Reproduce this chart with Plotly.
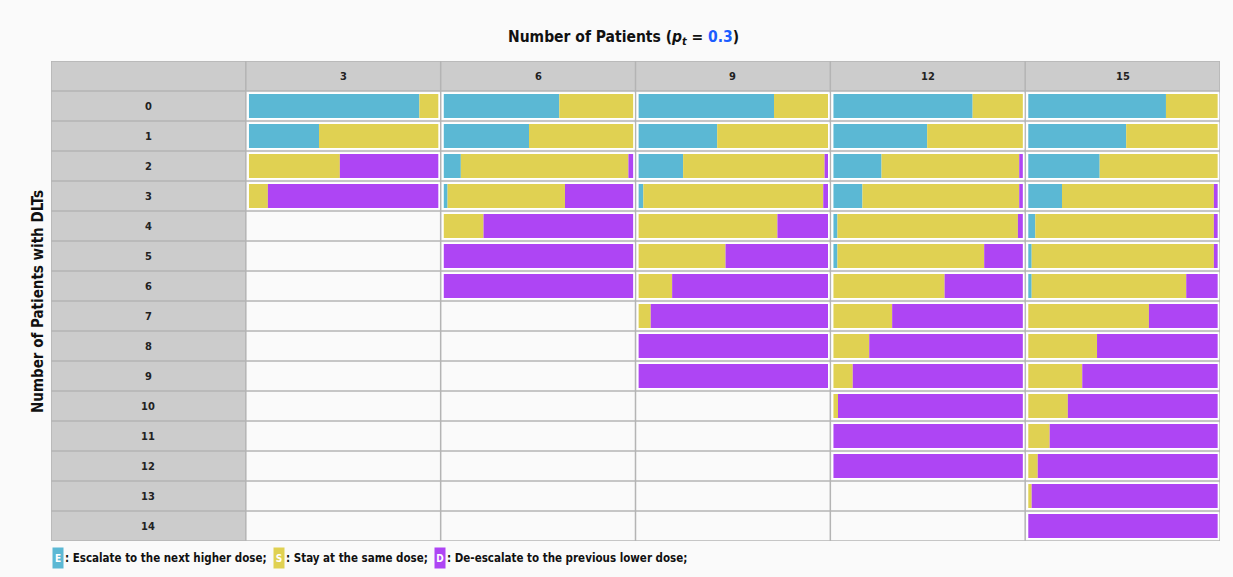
import plotly.graph_objects as go

patients = [3, 6, 9, 12, 15]
dlt_labels = [str(i) for i in range(15)]

prob_E = [
    [0.90, 0.37, 0.0, 0.0],
    [0.61, 0.45, 0.09, 0.02, 0.0, 0.0, 0.0],
    [0.715, 0.415, 0.235, 0.025, 0.0, 0.0, 0.0, 0.0, 0.0, 0.0],
    [0.735, 0.495, 0.254, 0.153, 0.021, 0.021, 0.0, 0.0, 0.0, 0.0, 0.0, 0.0, 0.0],
    [0.727, 0.517, 0.377, 0.178, 0.037, 0.018, 0.018, 0.0, 0.0, 0.0, 0.0, 0.0, 0.0, 0.0, 0.0],
]
prob_S = [
    [0.10, 0.63, 0.48, 0.10],
    [0.39, 0.55, 0.885, 0.62, 0.21, 0.0, 0.0],
    [0.285, 0.585, 0.747, 0.95, 0.733, 0.459, 0.177, 0.064, 0.0, 0.0],
    [0.265, 0.505, 0.727, 0.828, 0.953, 0.775, 0.587, 0.31, 0.189, 0.102, 0.024, 0.0, 0.0],
    [0.273, 0.483, 0.623, 0.802, 0.943, 0.962, 0.816, 0.637, 0.363, 0.285, 0.209, 0.113, 0.05, 0.018, 0.0],
]
prob_D = [
    [0.0, 0.0, 0.52, 0.90],
    [0.0, 0.0, 0.025, 0.36, 0.79, 1.0, 1.0],
    [0.0, 0.0, 0.018, 0.025, 0.267, 0.541, 0.823, 0.936, 1.0, 1.0],
    [0.0, 0.0, 0.019, 0.019, 0.026, 0.204, 0.413, 0.69, 0.811, 0.898, 0.976, 1.0, 1.0],
    [0.0, 0.0, 0.0, 0.02, 0.02, 0.02, 0.166, 0.363, 0.637, 0.715, 0.791, 0.887, 0.95, 0.982, 1.0],
]

COL_E = "#5bb8d4"
COL_S = "#e0d152"
COL_D = "#ae45f4"
GRID = "#b4b4b4"
HEAD = "#cccccc"
BG = "#fafafa"
FONT = "DejaVu Sans Condensed, DejaVu Sans, sans-serif"

PAD = 0.016
LEN = 0.972

fig = go.Figure()

# white frames behind each non-empty cell
fx, fy, fb = [], [], []
for ci in range(len(patients)):
    for r in range(len(prob_E[ci])):
        fy.append(r + 1.5)
        fb.append(ci + 1 + PAD - 0.008)
        fx.append(LEN + 0.016)
fig.add_trace(go.Bar(orientation="h", y=fy, x=fx, base=fb, width=0.88,
                     marker=dict(color="white", line=dict(width=0)),
                     hoverinfo="skip", showlegend=False))

for name, probs, col, off in [("E", prob_E, COL_E, ""), ("S", prob_S, COL_S, "E"), ("D", prob_D, COL_D, "ES")]:
    xs, ys, bs = [], [], []
    for ci in range(len(patients)):
        for r in range(len(probs[ci])):
            start = 0.0
            if "E" in off:
                start += prob_E[ci][r]
            if "S" in off:
                start += prob_S[ci][r]
            v = probs[ci][r]
            if v <= 0:
                continue
            ys.append(r + 1.5)
            bs.append(ci + 1 + PAD + start * LEN)
            xs.append(v * LEN)
    fig.add_trace(go.Bar(orientation="h", y=ys, x=xs, base=bs, width=0.8,
                         marker=dict(color=col, line=dict(width=0)),
                         name=name, hoverinfo="skip", showlegend=False))

shapes = [
    dict(type="rect", xref="x", yref="y", x0=0, x1=6, y0=0, y1=1, fillcolor=HEAD, line=dict(width=0), layer="below"),
    dict(type="rect", xref="x", yref="y", x0=0, x1=1, y0=0, y1=16, fillcolor=HEAD, line=dict(width=0), layer="below"),
]
for i in range(7):
    shapes.append(dict(type="line", xref="x", yref="y", x0=i, x1=i, y0=0, y1=16, line=dict(color=GRID, width=1.5), layer="between"))
for j in range(17):
    shapes.append(dict(type="line", xref="x", yref="y", x0=0, x1=6, y0=j, y1=j, line=dict(color=GRID, width=1.5), layer="between"))

annotations = []
for ci, n in enumerate(patients):
    annotations.append(dict(x=ci + 1.5, y=0.5, xref="x", yref="y", text=f"<b>{n}</b>", showarrow=False,
                            font=dict(size=11, color="#222", family=FONT)))
for r, lab in enumerate(dlt_labels):
    annotations.append(dict(x=0.5, y=r + 1.5, xref="x", yref="y", text=f"<b>{lab}</b>", showarrow=False,
                            font=dict(size=11, color="#222", family=FONT)))

# title
annotations.append(dict(x=(623 - 51) / 1169, y=(541 - 38) / 480, xref="paper", yref="paper",
                        xanchor="center", yanchor="middle",
                        text="<b>Number of Patients (<i>p<sub>t</sub></i> = <span style='color:#1a5cff'>0.3</span>)</b>",
                        showarrow=False, font=dict(size=15.5, color="#111", family=FONT)))
# y title
annotations.append(dict(x=(38 - 51) / 1169, y=(541 - 302) / 480, xref="paper", yref="paper",
                        xanchor="center", yanchor="middle",
                        text="<b>Number of Patients with DLTs</b>", textangle=-90, showarrow=False,
                        font=dict(size=15, color="#111", family=FONT)))

# legend
ly = (541 - 558) / 480
legend_parts = [
    ("E", COL_E, 52, ": Escalate to the next higher dose;"),
    ("S", COL_S, 273, ": Stay at the same dose;"),
    ("D", COL_D, 434, ": De-escalate to the previous lower dose;"),
]
for letter, col, px, txt in legend_parts:
    annotations.append(dict(x=(px - 51) / 1169, y=ly, xref="paper", yref="paper", xanchor="left", yanchor="middle",
                            text=f"<b>{letter}</b>", showarrow=False, bgcolor=col, borderpad=0,
                            width=10, height=20,
                            font=dict(size=10, color="white", family=FONT)))
    annotations.append(dict(x=(px + 11 - 51) / 1169, y=ly, xref="paper", yref="paper", xanchor="left", yanchor="middle",
                            text=f"<b>{txt}</b>", showarrow=False,
                            font=dict(size=11.5, color="#111", family=FONT)))

fig.update_layout(
    width=1233, height=577,
    margin=dict(l=51, r=13, t=61, b=36),
    paper_bgcolor=BG, plot_bgcolor=BG,
    barmode="overlay",
    xaxis=dict(range=[0, 6], showgrid=False, zeroline=False, showticklabels=False, fixedrange=True),
    yaxis=dict(range=[16, 0], showgrid=False, zeroline=False, showticklabels=False, fixedrange=True),
    shapes=shapes, annotations=annotations,
)

fig.write_html("out.html", config={"displayModeBar": False},
               post_script="document.body.style.margin='0';document.body.style.overflow='hidden';document.body.style.background='#fafafa';")
